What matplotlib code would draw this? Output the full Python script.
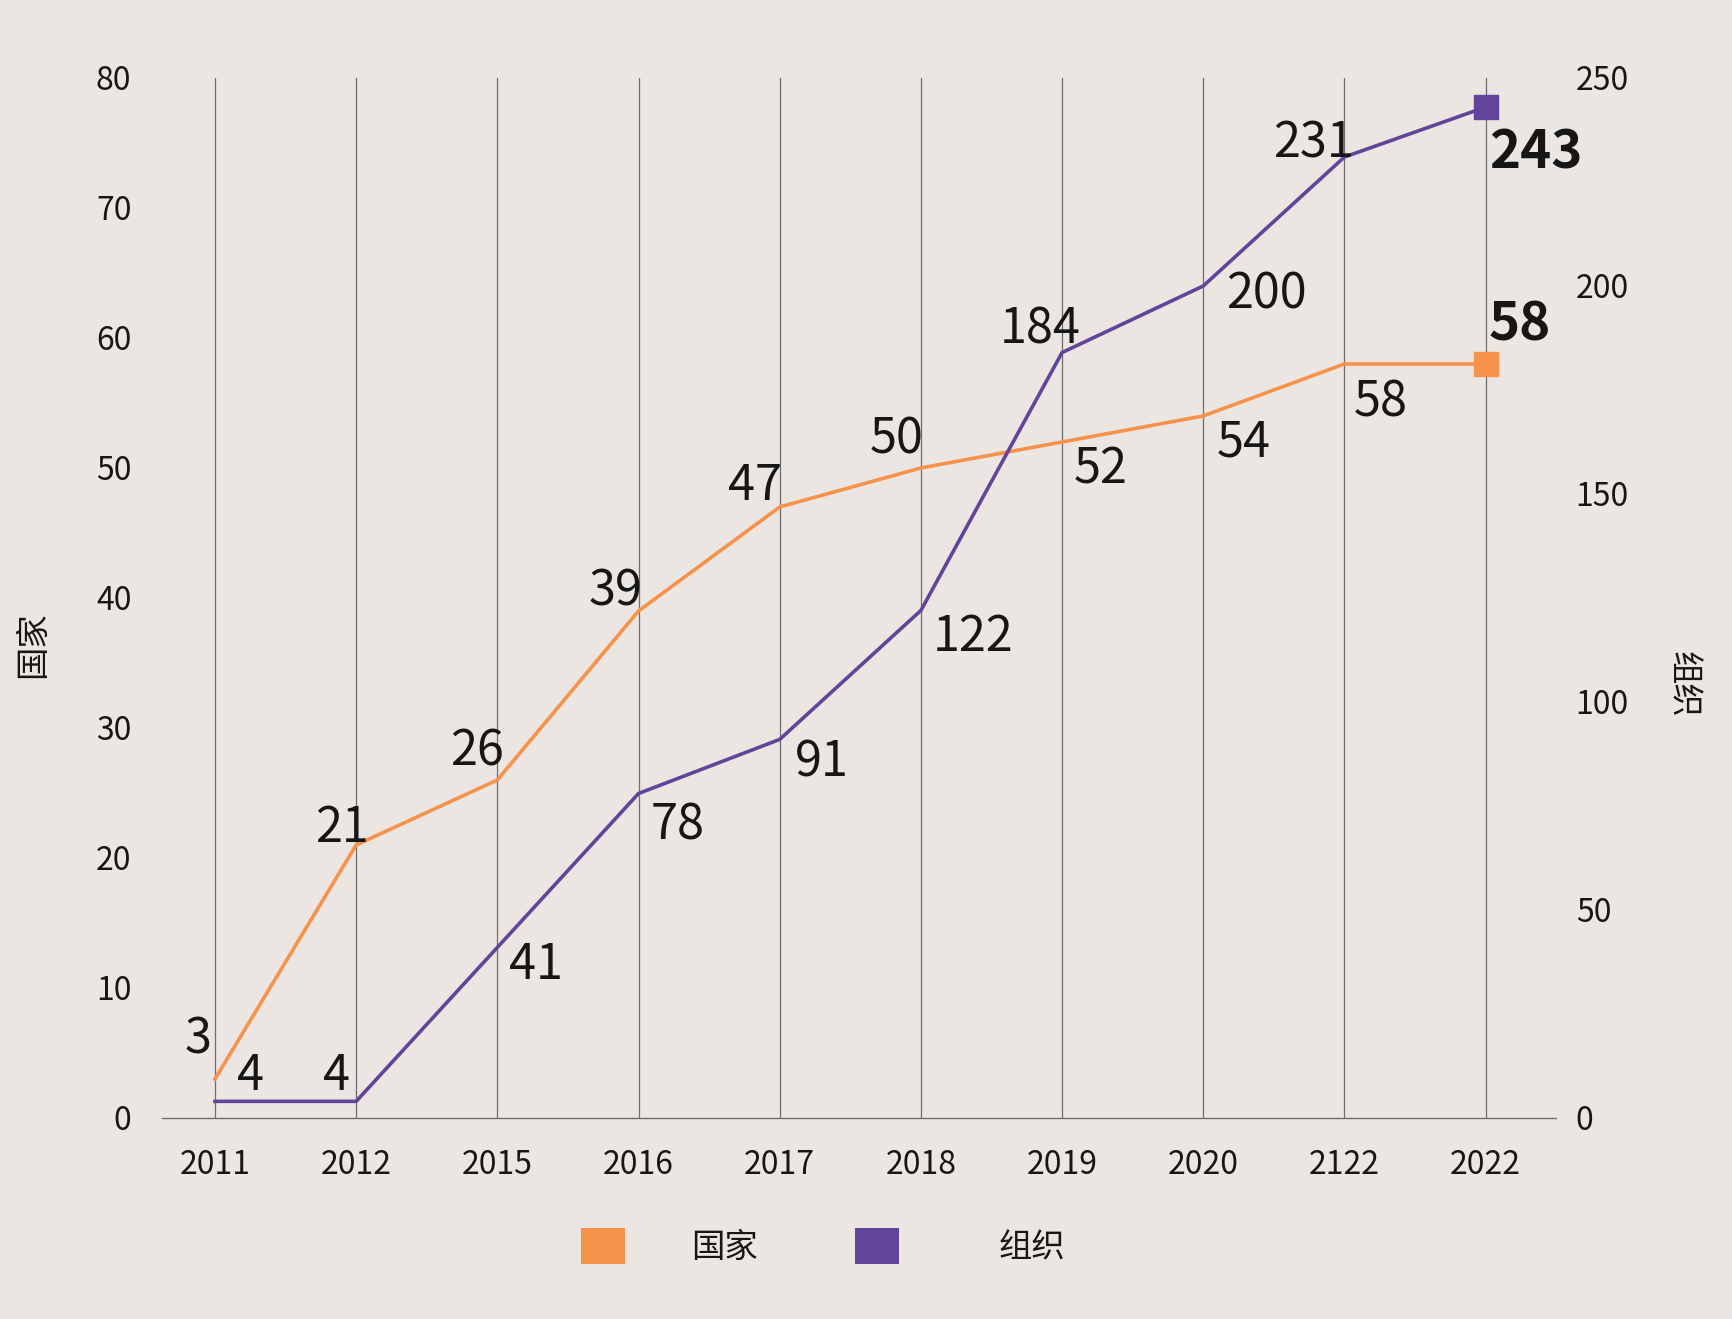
import matplotlib
matplotlib.use('Agg')
import matplotlib.pyplot as plt
from matplotlib.patches import Patch

years = ['2011', '2012', '2015', '2016', '2017', '2018', '2019', '2020', '2122', '2022']
countries = [3, 21, 26, 39, 47, 50, 52, 54, 58, 58]
orgs = [4, 4, 41, 78, 91, 122, 184, 200, 231, 243]
left_ticks = [0, 10, 20, 30, 40, 50, 60, 70, 80]
right_ticks = [0, 50, 100, 150, 200, 250]

# label offsets from each point, in pixels
country_off = [(-17, 39), (-14, 17), (-20, 28), (-23, 19), (-25, 21), (-24, 28), (39, -28), (40, -27), (36, -39), (34, 39)]
org_off = [(36, 25), (-20, 25), (39, -18), (39, -32), (42, -23), (52, -27), (-22, 23), (63, -9), (-31, 13), (50, -46)]

bg = '#ebe6e2'
orange = '#f7924a'
purple = '#62449a'
ink = '#161616'
grid_c = '#6e6e6e'

plt.rcParams['font.family'] = ['Noto Sans CJK SC', 'DejaVu Sans']
bold_font = ['Liberation Sans Narrow', 'Noto Sans CJK SC', 'DejaVu Sans']

fig = plt.figure(figsize=(17.33, 13.19), dpi=100, facecolor=bg)
ax = fig.add_axes([0.0935, 0.1524, 0.8045, 0.7885])
ax.set_facecolor(bg)
ax2 = ax.twinx()

x = list(range(len(years)))
ax.plot(x, countries, color=orange, lw=2.6, marker='s', markersize=17, markevery=[len(x) - 1], zorder=3)
ax2.plot(x, orgs, color=purple, lw=2.6, marker='s', markersize=17, markevery=[len(x) - 1], zorder=3)

ax.set_xlim(-0.375, 9.5)
ax.set_ylim(0, 80)
ax2.set_ylim(0, 250)

for xi in x:
    ax.axvline(xi, color=grid_c, lw=0.9, zorder=1)

for a in (ax, ax2):
    for s in a.spines.values():
        s.set_visible(False)
ax.spines['bottom'].set_visible(True)
ax.spines['bottom'].set_color(grid_c)
ax.spines['bottom'].set_linewidth(1.0)

ax.set_xticks(x)
ax.set_xticklabels(years)
ax.set_yticks(left_ticks)
ax2.set_yticks(right_ticks)
ax.tick_params(axis='x', length=0, pad=22, labelsize=23, labelcolor=ink)
ax.tick_params(axis='y', length=0, pad=22, labelsize=23, labelcolor=ink)
ax2.tick_params(axis='y', length=0, pad=14, labelsize=23, labelcolor=ink)

ax.set_ylabel('国家', fontsize=24, color=ink)
ax.yaxis.set_label_coords(-0.080, 0.455)
ax2.set_ylabel('组织', fontsize=24, color=ink, rotation=270, va='center')
ax2.yaxis.set_label_coords(1.091, 0.417)

last = len(x) - 1
for i, v in enumerate(countries):
    dx, dy = country_off[i]
    if i == last:
        ax.annotate(str(v), (i, v), xytext=(dx, dy), textcoords='offset pixels', ha='center', va='center',
                    fontsize=38, fontweight='bold', family=bold_font, color=ink, zorder=5)
    else:
        ax.annotate(str(v), (i, v), xytext=(dx, dy), textcoords='offset pixels', ha='center', va='center',
                    fontsize=35, color=ink, zorder=5)
for i, v in enumerate(orgs):
    dx, dy = org_off[i]
    if i == last:
        ax2.annotate(str(v), (i, v), xytext=(dx, dy), textcoords='offset pixels', ha='center', va='center',
                     fontsize=38, fontweight='bold', family=bold_font, color=ink, zorder=5)
    else:
        ax2.annotate(str(v), (i, v), xytext=(dx, dy), textcoords='offset pixels', ha='center', va='center',
                     fontsize=35, color=ink, zorder=5)

# two legend entries, spaced differently as in the original
legend_items = [('国家', orange, 0.3354, 2.0), ('组织', purple, 0.4935, 3.0)]
for label, col, lx, pad in legend_items:
    fig.legend(handles=[Patch(facecolor=col, edgecolor='none', label=label)], loc='center left',
               bbox_to_anchor=(lx, 0.055), frameon=False, borderpad=0, borderaxespad=0,
               fontsize=24, handlelength=1.3, handleheight=1.3, handletextpad=pad, labelcolor=ink)

fig.savefig('out.png', dpi=100, facecolor=bg)
